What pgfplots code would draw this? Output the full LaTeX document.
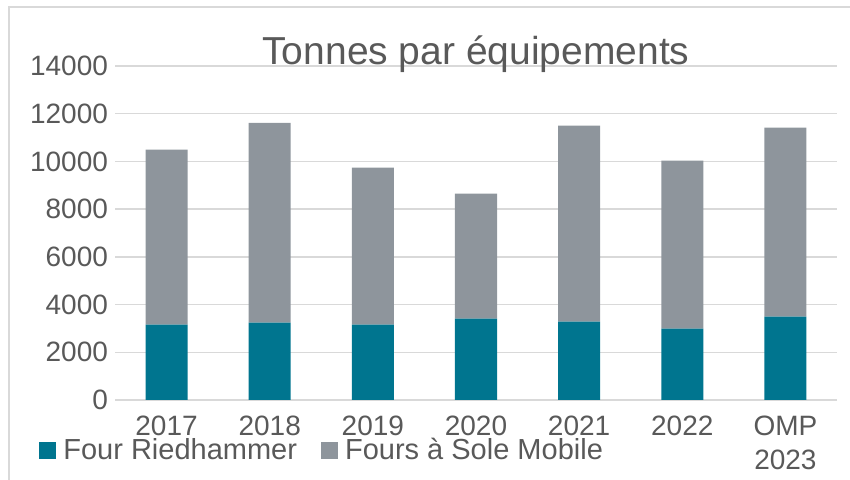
\documentclass[border=0pt]{standalone}
\usepackage{graphicx}
\usepackage{pgfplots}
\pgfplotsset{compat=1.18}
\usepackage{fontspec}
\setmainfont{Liberation Sans}
\definecolor{teal1}{HTML}{00758F}
\definecolor{gray1}{HTML}{8E959C}
\definecolor{txt}{HTML}{595959}
\definecolor{gridc}{HTML}{D9D9D9}
\begin{document}
\begin{tikzpicture}
\useasboundingbox (0,0) rectangle (425pt,240pt);
\draw[gridc, line width=0.75pt] (4.5pt,0) -- (4.5pt,236.5pt) -- (425pt,236.5pt);
\begin{axis}[
 name=ax,
 at={(57.5pt,40pt)}, anchor=south west,
 scale only axis, width=361pt, height=167pt,
 ybar stacked, bar width=21pt,
 xmin=-0.5, xmax=6.5, ymin=0, ymax=14000,
 xtick={0,1,2,3,4,5,6},
 xticklabels={2017,2018,2019,2020,2021,2022,{\begin{tabular}[t]{@{}c@{}}OMP\\[1pt]2023\end{tabular}}},
 ytick={0,2000,...,14000},
 scaled y ticks=false,
 ymajorgrids, grid style={gridc, line width=0.75pt},
 axis line style={draw=none},
 major tick length=0pt,
 tick label style={text=txt},
 yticklabel style={font=\fontsize{14}{16}\selectfont},
 xticklabel style={font=\fontsize{14}{16}\selectfont, anchor=base, yshift=-18pt, inner sep=0pt},
 /pgf/number format/assume math mode=true,
 /pgf/number format/1000 sep={},
 legend columns=2,
 legend style={at={(-0.1053,-0.1512)}, anchor=west, draw=none, fill=none, inner sep=0pt,
   font=\fontsize{14.5}{16}\selectfont, text=txt, nodes={inner sep=0pt},
   /tikz/every odd column/.style={column sep=3.5pt},
   /tikz/every even column/.style={column sep=12pt}},
 legend image code/.code={\fill[#1] (0pt,-4.25pt) rectangle (8.5pt,4.25pt);},
]
\addplot[fill=teal1, draw=none] coordinates {(0,3160) (1,3240) (2,3160) (3,3410) (4,3280) (5,2990) (6,3490)};
\addlegendentry{Four Riedhammer}
\addplot[fill=gray1, draw=none] coordinates {(0,7330) (1,8380) (2,6580) (3,5240) (4,8220) (5,7040) (6,7930)};
\addlegendentry{Fours à Sole Mobile}
\end{axis}
\node[anchor=base, font=\fontsize{19.5}{22}\selectfont, text=txt] at ([yshift=0.5pt]ax.north) {Tonnes par équipements};
\end{tikzpicture}
\end{document}
